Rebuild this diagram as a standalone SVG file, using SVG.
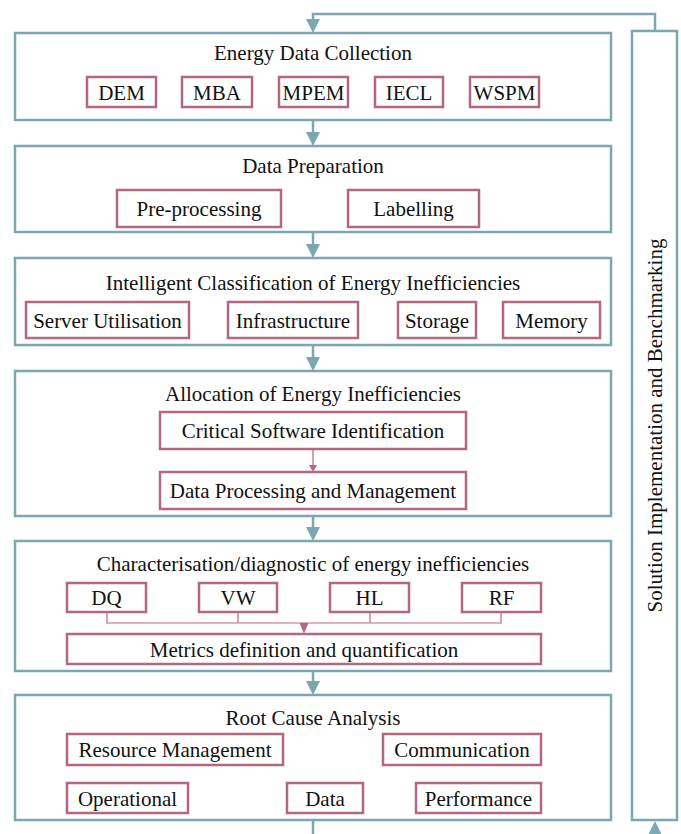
<svg xmlns="http://www.w3.org/2000/svg" width="681" height="834" viewBox="0 0 681 834">
<style>
.main{fill:#fff;stroke:#7BA8AE;stroke-width:2.5}
.sub{fill:#fff;stroke:#B4687F;stroke-width:2.5}
.t{font-family:"Liberation Serif","Times New Roman",serif;font-size:21px;fill:#111;text-anchor:middle}
.con{fill:none;stroke:#7BA8AE;stroke-width:2.5}
.head{fill:#7BA8AE}
.icon{fill:none;stroke:#B4687F;stroke-width:1.2}
.ihead{fill:#B4687F}
</style>
<rect width="681" height="834" fill="#fff"/>
<g id="connectors">
<path class="con" d="M655,31 V14 H313 V20"/>
<polygon class="head" points="306,19 320,19 313,33"/>
<line class="con" x1="313" y1="120" x2="313" y2="133"/>
<polygon class="head" points="306,132 320,132 313,146"/>
<line class="con" x1="313" y1="232" x2="313" y2="245"/>
<polygon class="head" points="306,244 320,244 313,258"/>
<line class="con" x1="313" y1="345" x2="313" y2="358"/>
<polygon class="head" points="306,357 320,357 313,371"/>
<line class="con" x1="313" y1="516" x2="313" y2="528"/>
<polygon class="head" points="306,527 320,527 313,541"/>
<line class="con" x1="313" y1="671" x2="313" y2="682"/>
<polygon class="head" points="306,681 320,681 313,695"/>
<line class="con" x1="313" y1="820" x2="313" y2="834"/>
<polygon class="head" points="648,835 662,835 655,821"/>
</g>
<g id="n-solution">
<rect class="main" x="632" y="31" width="45" height="789"/>
<text class="t" transform="translate(662,425.5) rotate(-90)">Solution Implementation and Benchmarking</text>
</g>
<g id="n-collection">
<rect class="main" x="15" y="33" width="596" height="87"/>
<text class="t" x="313" y="60">Energy Data Collection</text>
<rect class="sub" x="87" y="77" width="69" height="30"/><text class="t" x="121.5" y="99.5">DEM</text>
<rect class="sub" x="182" y="77" width="70" height="30"/><text class="t" x="217" y="99.5">MBA</text>
<rect class="sub" x="279" y="77" width="69" height="30"/><text class="t" x="313.5" y="99.5">MPEM</text>
<rect class="sub" x="375" y="77" width="68" height="30"/><text class="t" x="409" y="99.5">IECL</text>
<rect class="sub" x="470" y="77" width="69" height="30"/><text class="t" x="504.5" y="99.5">WSPM</text>
</g>
<g id="n-preparation">
<rect class="main" x="15" y="146" width="596" height="86"/>
<text class="t" x="313" y="173">Data Preparation</text>
<rect class="sub" x="117" y="190" width="164" height="37"/><text class="t" x="199" y="216">Pre-processing</text>
<rect class="sub" x="348" y="190" width="131" height="37"/><text class="t" x="413.5" y="216">Labelling</text>
</g>
<g id="n-classification">
<rect class="main" x="15" y="258" width="596" height="87"/>
<text class="t" x="313" y="289.5">Intelligent Classification of Energy Inefficiencies</text>
<rect class="sub" x="26" y="302" width="163" height="36"/><text class="t" x="107.5" y="327.5">Server Utilisation</text>
<rect class="sub" x="228" y="302" width="130" height="36"/><text class="t" x="293" y="327.5">Infrastructure</text>
<rect class="sub" x="398" y="302" width="78" height="36"/><text class="t" x="437" y="327.5">Storage</text>
<rect class="sub" x="503" y="302" width="97" height="36"/><text class="t" x="551.5" y="327.5">Memory</text>
</g>
<g id="n-allocation">
<rect class="main" x="15" y="371" width="596" height="145"/>
<text class="t" x="313" y="401">Allocation of Energy Inefficiencies</text>
<rect class="sub" x="160" y="412" width="306" height="37"/><text class="t" x="313" y="438">Critical Software Identification</text>
<line class="icon" x1="313" y1="449" x2="313" y2="466"/>
<polygon class="ihead" points="309,465 317,465 313,472"/>
<rect class="sub" x="160" y="472" width="306" height="37"/><text class="t" x="313" y="498">Data Processing and Management</text>
</g>
<g id="n-characterisation">
<rect class="main" x="15" y="541" width="596" height="130"/>
<text class="t" x="313" y="571">Characterisation/diagnostic of energy inefficiencies</text>
<rect class="sub" x="67" y="583" width="79" height="29"/><text class="t" x="106.5" y="605">DQ</text>
<rect class="sub" x="199" y="583" width="78" height="29"/><text class="t" x="238" y="605">VW</text>
<rect class="sub" x="330" y="583" width="79" height="29"/><text class="t" x="369.5" y="605">HL</text>
<rect class="sub" x="462" y="583" width="79" height="29"/><text class="t" x="501.5" y="605">RF</text>
<path class="icon" d="M107,612 V623 H501 V612 M238,612 V623 M370,612 V623"/>
<polygon class="ihead" points="299.5,623 308.5,623 304,633.5"/>
<rect class="sub" x="67" y="634" width="474" height="30"/><text class="t" x="304" y="656.5">Metrics definition and quantification</text>
</g>
<g id="n-rootcause">
<rect class="main" x="15" y="695" width="596" height="125"/>
<text class="t" x="313" y="725">Root Cause Analysis</text>
<rect class="sub" x="67" y="734" width="216" height="31"/><text class="t" x="175" y="757">Resource Management</text>
<rect class="sub" x="383" y="734" width="158" height="31"/><text class="t" x="462" y="757">Communication</text>
<rect class="sub" x="67" y="783" width="121" height="30"/><text class="t" x="127.5" y="805.5">Operational</text>
<rect class="sub" x="287" y="783" width="76" height="30"/><text class="t" x="325" y="805.5">Data</text>
<rect class="sub" x="416" y="783" width="125" height="30"/><text class="t" x="478.5" y="805.5">Performance</text>
</g>
</svg>
